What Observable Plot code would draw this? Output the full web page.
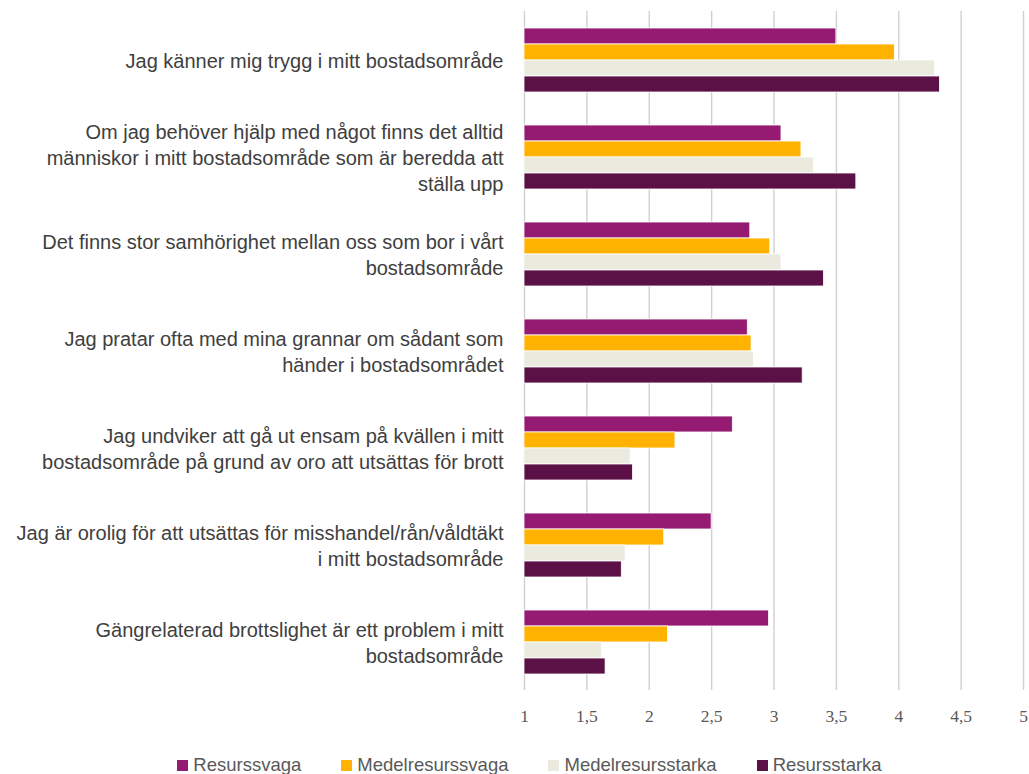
<!DOCTYPE html>
<html><head><meta charset="utf-8">
<script src="https://cdn.jsdelivr.net/npm/d3@7"></script>
<script src="https://cdn.jsdelivr.net/npm/@observablehq/plot@0.6"></script>
<style>
body{margin:0;background:#fff;}
#legend{display:flex;justify-content:center;align-items:center;gap:40px;margin-top:9px;margin-left:30px;font-family:"Liberation Sans",sans-serif;font-size:18.5px;line-height:22px;color:#595959;}
#legend .item{display:flex;align-items:center;gap:5px;}
#legend .sw{width:11px;height:11px;display:inline-block;}
</style>
</head><body>
<div id="chart"></div>
<div id="legend"></div>
<script>
const categories = [
  "Jag känner mig trygg i mitt bostadsområde",
  "Om jag behöver hjälp med något finns det alltid\nmänniskor i mitt bostadsområde som är beredda att\nställa upp",
  "Det finns stor samhörighet mellan oss som bor i vårt\nbostadsområde",
  "Jag pratar ofta med mina grannar om sådant som\nhänder i bostadsområdet",
  "Jag undviker att gå ut ensam på kvällen i mitt\nbostadsområde på grund av oro att utsättas för brott",
  "Jag är orolig för att utsättas för misshandel/rån/våldtäkt\ni mitt bostadsområde",
  "Gängrelaterad brottslighet är ett problem i mitt\nbostadsområde"
];
const seriesNames = ["Resurssvaga", "Medelresurssvaga", "Medelresursstarka", "Resursstarka"];
const seriesColors = ["#951B72", "#FFB300", "#EAEADF", "#5B1046"];
const resurssvaga       = [3.50, 3.06, 2.81, 2.79, 2.67, 2.50, 2.96];
const medelresurssvaga  = [3.97, 3.22, 2.97, 2.82, 2.21, 2.12, 2.15];
const medelresursstarka = [4.29, 3.32, 3.06, 2.84, 1.85, 1.81, 1.62];
const resursstarka      = [4.33, 3.66, 3.40, 3.23, 1.87, 1.78, 1.65];
const xTicks = [1, 1.5, 2, 2.5, 3, 3.5, 4, 4.5, 5];

const seriesValues = [resurssvaga, medelresurssvaga, medelresursstarka, resursstarka];
const data = categories.flatMap((c, i) =>
  seriesNames.map((s, j) => ({category: c, series: s, value: seriesValues[j][i]})));

const chart = Plot.plot({
  width: 1029, height: 745,
  marginTop: 8, marginBottom: 53, marginLeft: 524, marginRight: 6,
  style: {background: "white"},
  x: {domain: [1, 5], ticks: xTicks},
  y: {domain: seriesNames, axis: null, paddingInner: 0, paddingOuter: 0.916},
  fy: {domain: categories, padding: 0, label: null},
  color: {domain: seriesNames, range: seriesColors},
  marks: [
    Plot.gridX(xTicks, {stroke: "#d0d0d0", strokeOpacity: 1, strokeWidth: 1.4}),
    Plot.barX(data, {fy: "category", y: "series", x1: 1, x2: "value", fill: "series", stroke: "white", strokeWidth: 0.8}),
    Plot.axisX(xTicks, {tickSize: 0, tickPadding: 19, label: null, tickFormat: d => String(d).replace(".", ","),
      fontFamily: "Liberation Serif", fontSize: 17.5, fill: "#595959"}),
    Plot.axisFy({anchor: "left", tickSize: 0, tickPadding: 21, label: null, fontFamily: "Liberation Sans", fontSize: 20,
      lineHeight: 1.3, fill: "#404040"})
  ]
});
document.getElementById("chart").appendChild(chart);

const legend = document.getElementById("legend");
seriesNames.forEach((s, i) => {
  const it = document.createElement("div");
  it.className = "item";
  const sw = document.createElement("span");
  sw.className = "sw"; sw.style.background = seriesColors[i];
  const t = document.createElement("span"); t.textContent = s;
  it.appendChild(sw); it.appendChild(t);
  legend.appendChild(it);
});
</script>
</body></html>
